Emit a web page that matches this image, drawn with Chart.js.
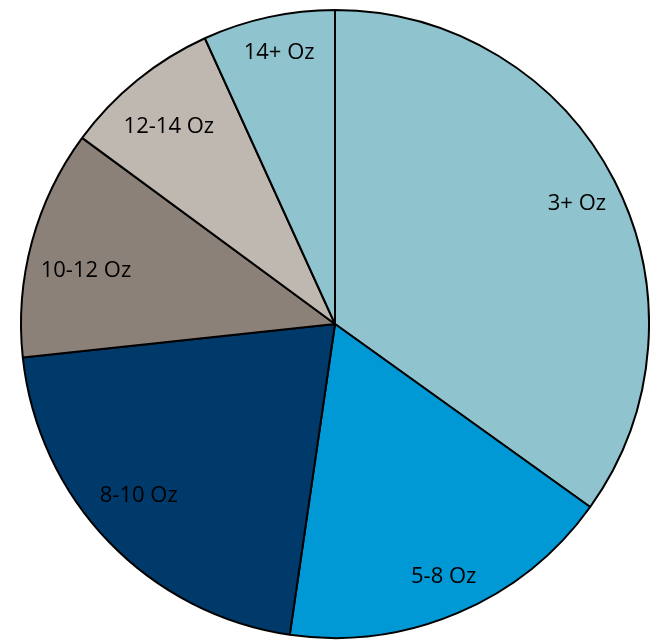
<!DOCTYPE html>
<html>
<head>
<meta charset="utf-8">
<script src="https://cdn.jsdelivr.net/npm/chart.js@4.4.1/dist/chart.umd.min.js"></script>
<style>
  html, body { margin: 0; padding: 0; background: #fff; }
  canvas { display: block; }
</style>
</head>
<body>
<canvas id="chart" width="650" height="641"></canvas>
<script>
// slices clockwise from 12 o'clock
const categories = ["3+ Oz", "5-8 Oz", "8-10 Oz", "10-12 Oz", "12-14 Oz", "14+ Oz"];
const shares = [34.9, 17.4, 21.0, 11.8, 8.1, 6.8];
const sliceColors = ["#8fc4cf", "#0099d5", "#003a6b", "#8b8178", "#bfb8b1", "#8fc4cf"];

// label placement inside each slice (share of radius, angle nudge in degrees)
const labelRadius = [0.86, 0.877, 0.831, 0.811, 0.822, 0.882];
const labelNudge = [0.8, -0.2, 2.7, -3.1, -1.0, 0.6];

const sliceLabels = {
    id: "sliceLabels",
    afterDatasetsDraw(chart) {
        const ctx = chart.ctx;
        const arcs = chart.getDatasetMeta(0).data;
        ctx.save();
        ctx.font = "22px 'Open Sans'";
        ctx.fillStyle = "#000";
        ctx.textAlign = "center";
        ctx.textBaseline = "middle";
        arcs.forEach((arc, i) => {
            const mid = (arc.startAngle + arc.endAngle) / 2 + labelNudge[i] * Math.PI / 180;
            const r = arc.outerRadius * labelRadius[i];
            ctx.fillText(categories[i], arc.x + Math.cos(mid) * r, arc.y + Math.sin(mid) * r);
        });
        ctx.restore();
    }
};

new Chart(document.getElementById("chart").getContext("2d"), {
    type: "pie",
    data: {
        labels: categories,
        datasets: [{
            data: shares,
            backgroundColor: sliceColors,
            borderColor: "#000",
            borderWidth: 2
        }]
    },
    options: {
        responsive: false,
        animation: false,
        devicePixelRatio: 1,
        layout: { padding: { left: 20, top: 9, right: 0, bottom: 2 } },
        plugins: {
            legend: { display: false },
            tooltip: { enabled: false }
        }
    },
    plugins: [sliceLabels]
});
</script>
</body>
</html>
